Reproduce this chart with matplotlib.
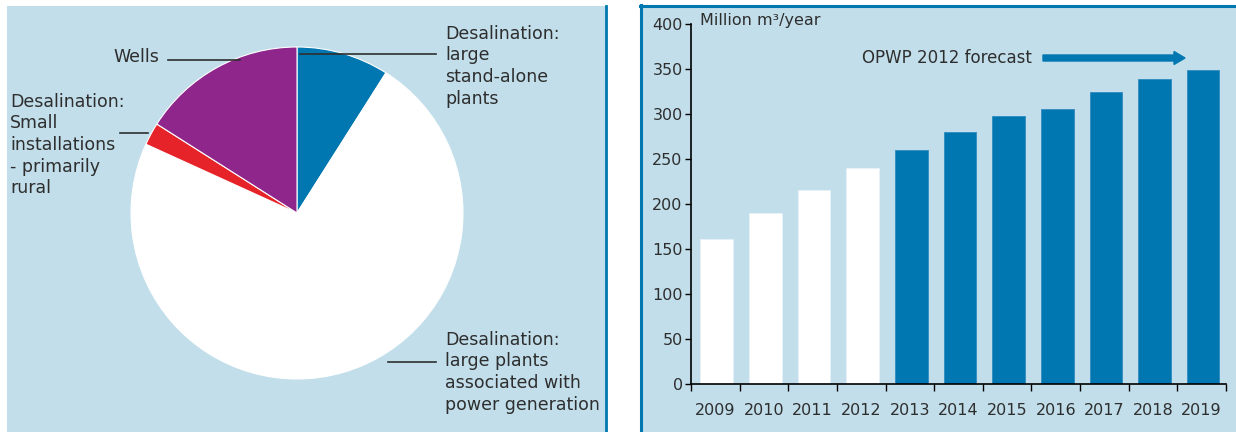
import matplotlib
matplotlib.use("Agg")
import matplotlib.pyplot as plt
from matplotlib.patches import Rectangle, FancyArrow
from matplotlib.lines import Line2D
from matplotlib.transforms import IdentityTransform

# ---- data ----
pie_labels = [
    "Desalination: large stand-alone plants",
    "Desalination: large plants associated with power generation",
    "Desalination: Small installations - primarily rural",
    "Wells",
]
pie_shares = [9.0, 72.8, 2.2, 16.0]

years = ["2009", "2010", "2011", "2012", "2013", "2014",
         "2015", "2016", "2017", "2018", "2019"]
volumes = [161, 190, 215, 240, 260, 280, 298, 306, 324, 339, 349]
first_forecast_year = "2013"
y_ticks = [0, 50, 100, 150, 200, 250, 300, 350, 400]

# ---- style ----
W, H = 1236, 432
BG = "#c1deea"
BLUE = "#0077b0"
TXT = "#2e2e2e"
FONT = "DejaVu Sans"
pie_colors = [BLUE, "white", "#e62328", "#8e268c"]

plt.rcParams["font.family"] = FONT

fig = plt.figure(figsize=(W / 100, H / 100), dpi=100)
fig.patch.set_facecolor("white")


def fx(x):
    return x / W


def fy(y):
    return 1 - y / H


# panel backgrounds and borders
fig.patches.append(Rectangle((fx(7), 0), fx(606) - fx(7), fy(6),
                             transform=fig.transFigure, facecolor=BG,
                             edgecolor="none", zorder=-10))
fig.add_artist(Line2D([fx(606), fx(606)], [0, fy(6)], color=BLUE, lw=2))

fig.patches.append(Rectangle((fx(640), 0), 1 - fx(640), fy(5),
                             transform=fig.transFigure, facecolor=BG,
                             edgecolor="none", zorder=-10))
fig.add_artist(Line2D([fx(641), fx(641)], [0, fy(5)], color=BLUE, lw=2.2))
fig.add_artist(Line2D([fx(640), 1], [fy(6), fy(6)], color=BLUE, lw=2.2))

# ---- pie ----
ax1 = fig.add_axes([fx(131), fy(379), 332 / W, 332 / H])
ax1.pie(pie_shares, colors=pie_colors, startangle=90, counterclock=False,
        wedgeprops=dict(edgecolor="white", linewidth=0.8))
ax1.set_xlim(-1, 1)
ax1.set_ylim(-1, 1)
ax1.axis("off")

FS = 12.5
STEP = 21.5


def text_block(x, y0, lines):
    for i, s in enumerate(lines):
        fig.text(fx(x), fy(y0 + i * STEP), s, ha="left", va="center",
                 fontsize=FS, color=TXT)


def leader(x0, x1, y):
    fig.add_artist(Line2D([fx(x0), fx(x1)], [fy(y), fy(y)], color=TXT, lw=1.2))


text_block(113, 57, ["Wells"])
leader(168, 240, 60)

text_block(10, 102, ["Desalination:", "Small", "installations",
                     "- primarily", "rural"])
leader(120, 148, 133)

text_block(445, 34, ["Desalination:", "large", "stand-alone", "plants"])
leader(300, 436, 54)

text_block(445, 340, ["Desalination:", "large plants",
                      "associated with", "power generation"])
leader(388, 436, 362)

# ---- bars ----
ax2 = fig.add_axes([fx(691), fy(384), (1226 - 691) / W, 360 / H])
ax2.set_facecolor("none")
x = list(range(len(years)))
split = years.index(first_forecast_year)
bar_colors = ["white" if i < split else BLUE for i in x]
edge_colors = ["#e6f2f7" if i < split else "#2f8cbf" for i in x]
ax2.bar([i + 0.03 for i in x], volumes, width=0.67, color=bar_colors,
        edgecolor=edge_colors, linewidth=0.6, zorder=2)
ax2.set_xlim(-0.5, len(years) - 0.5)
ax2.set_ylim(0, 400)
for side in ("top", "right"):
    ax2.spines[side].set_visible(False)
for side in ("left", "bottom"):
    ax2.spines[side].set_color("black")
    ax2.spines[side].set_linewidth(1.2)
ax2.set_yticks(y_ticks)
ax2.tick_params(axis="y", length=4, width=1, pad=2, labelsize=11.5,
                labelcolor=TXT)
ax2.set_xticks(x)
ax2.set_xticklabels(years)
ax2.tick_params(axis="x", which="major", length=0, pad=14, labelsize=11.5,
                labelcolor=TXT)
ax2.set_xticks([i - 0.5 for i in range(len(years) + 1)], minor=True)
ax2.tick_params(axis="x", which="minor", length=5, width=1)

fig.text(fx(700), fy(21), "Million m³/year", ha="left", va="center",
         fontsize=11.5, color=TXT)
fig.text(fx(862), fy(58), "OPWP 2012 forecast", ha="left", va="center",
         fontsize=12, color=TXT)
fig.patches.append(FancyArrow(1043, H - 58, 142, 0, width=6, head_width=13,
                              head_length=11, length_includes_head=True,
                              color=BLUE, transform=IdentityTransform()))

fig.savefig("out.png", dpi=100)
